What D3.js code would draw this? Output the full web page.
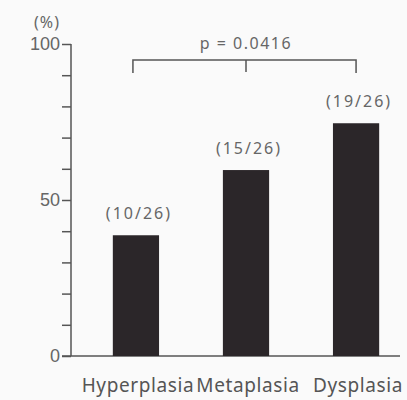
<!DOCTYPE html>
<html>
<head>
<meta charset="utf-8">
<script src="https://cdn.jsdelivr.net/npm/d3@7"></script>
<style>
  body { margin: 0; background: #fafafa; }
  svg { display: block; font-family: "Noto Sans", sans-serif; }
  .axis path, .axis line { stroke: #555; stroke-width: 1.5; }
  .axis text { fill: #666; font-size: 18px; }
</style>
</head>
<body>
<script>
var categories = ["Hyperplasia", "Metaplasia", "Dysplasia"];
var values = [38.7, 59.6, 74.6];
var fractions = ["(10/26)", "(15/26)", "(19/26)"];
var yTicks = [0, 10, 20, 30, 40, 50, 60, 70, 80, 90, 100];
var yTickLabels = {0: "0", 50: "50", 100: "100"};
var pText = "p = 0.0416";

var w = 407;
var h = 400;

var svg = d3.select("body")
  .append("svg")
  .attr("width", w)
  .attr("height", h);

var xScale = d3.scaleBand()
  .domain(categories)
  .range([71, 421])
  .paddingInner(0.58)
  .paddingOuter(0.38);

var yScale = d3.scaleLinear()
  .domain([0, 100])
  .range([356, 44]);

// y axis
var yAxis = d3.axisLeft(yScale)
  .tickValues(yTicks)
  .tickSize(9)
  .tickPadding(2)
  .tickFormat(function(d) { return yTickLabels[d] || ""; });

svg.append("g")
  .attr("class", "axis")
  .attr("transform", "translate(71,0)")
  .call(yAxis)
  .call(function(g) { g.select(".domain").attr("d", "M0," + yScale(100) + "V" + yScale(0)); });

// baseline
svg.append("line")
  .attr("x1", 62)
  .attr("x2", 400)
  .attr("y1", yScale(0))
  .attr("y2", yScale(0))
  .attr("stroke", "#555")
  .attr("stroke-width", 1.5);

svg.append("text")
  .attr("x", 47)
  .attr("y", 28)
  .attr("text-anchor", "middle")
  .attr("fill", "#666")
  .style("font-size", "16px")
  .style("letter-spacing", "1px")
  .text("(%)");

// bars
svg.selectAll(".bar")
  .data(values)
  .enter()
  .append("rect")
  .attr("class", "bar")
  .attr("x", function(d, i) { return xScale(categories[i]); })
  .attr("width", xScale.bandwidth())
  .attr("y", function(d) { return yScale(d); })
  .attr("height", function(d) { return yScale(0) - yScale(d); })
  .attr("fill", "#2b2629");

// fraction labels
svg.selectAll(".frac")
  .data(values)
  .enter()
  .append("text")
  .attr("class", "frac")
  .attr("x", function(d, i) { return xScale(categories[i]) + xScale.bandwidth() / 2 + 3; })
  .attr("y", function(d) { return yScale(d) - 16; })
  .attr("text-anchor", "middle")
  .attr("fill", "#666")
  .style("font-size", "16px")
  .style("letter-spacing", "2px")
  .text(function(d, i) { return fractions[i]; });

// category labels
svg.selectAll(".cat")
  .data(categories)
  .enter()
  .append("text")
  .attr("class", "cat")
  .attr("x", function(d) { return xScale(d) + xScale.bandwidth() / 2 + 2; })
  .attr("y", 392)
  .attr("text-anchor", "middle")
  .attr("fill", "#555")
  .style("font-size", "19px")
  .style("letter-spacing", "0.6px")
  .text(function(d) { return d; });

// significance bracket
var bx1 = xScale(categories[0]) + xScale.bandwidth() / 2 - 3;
var bx2 = xScale(categories[2]) + xScale.bandwidth() / 2;
var bxm = xScale(categories[1]) + xScale.bandwidth() / 2;
var by = 60;
svg.append("path")
  .attr("d", "M" + bx1 + "," + (by + 13) + "V" + by + "H" + bx2 + "V" + (by + 13) +
             "M" + bxm + "," + by + "V" + (by + 12))
  .attr("fill", "none")
  .attr("stroke", "#555")
  .attr("stroke-width", 1.5);

svg.append("text")
  .attr("x", bxm)
  .attr("y", 49)
  .attr("text-anchor", "middle")
  .attr("fill", "#666")
  .style("font-size", "16px")
  .style("letter-spacing", "1.5px")
  .text(pText);
</script>
</body>
</html>
